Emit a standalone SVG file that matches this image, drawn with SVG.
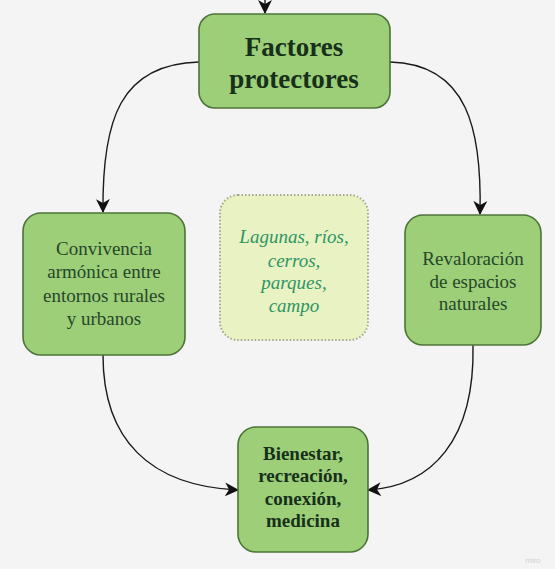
<svg xmlns="http://www.w3.org/2000/svg" width="555" height="569" viewBox="0 0 555 569">
  <style>
    .node { fill: #9ccf78; stroke: #4d7339; stroke-width: 1.6; }
    .note { fill: #e9f2c2; stroke: #a7a790; stroke-width: 2; stroke-dasharray: 1.5 2; }
    .edge { fill: none; stroke: #1a1a1a; stroke-width: 1.4; }
    text { font-family: 'Liberation Serif', 'Tinos', 'DejaVu Serif', serif; text-anchor: middle; }
    .plain { font-size: 19px; fill: #27472a; }
    .bold { font-weight: bold; fill: #17301a; }
    .it { font-size: 19px; font-style: italic; fill: #2e9565; }
  </style>
  <defs>
    <marker id="arrow" viewBox="0 0 14 14" refX="13" refY="7" markerWidth="14" markerHeight="14" markerUnits="userSpaceOnUse" orient="auto">
      <path d="M0,0 L14,7 L0,14 L4,7 Z" fill="#111"/>
    </marker>
  </defs>
  <rect width="555" height="569" fill="#f4f4f4"/>

  <g id="connectors">
    <path class="edge" d="M265,0 L265,13" marker-end="url(#arrow)"/>
    <path class="edge" d="M199,62 C120,64 102,120 103,212" marker-end="url(#arrow)"/>
    <path class="edge" d="M390,62 C468,64 482,130 480,214" marker-end="url(#arrow)"/>
    <path class="edge" d="M103,355 C103,440 150,486 238,490" marker-end="url(#arrow)"/>
    <path class="edge" d="M473,345 C475,440 432,486 368,490" marker-end="url(#arrow)"/>
  </g>

  <g id="factores">
    <rect class="node" x="199" y="14" width="191" height="94" rx="16"/>
    <text class="bold" x="294" y="56" font-size="27">Factores</text>
    <text class="bold" x="294" y="88" font-size="27">protectores</text>
  </g>

  <g id="convivencia">
    <rect class="node" x="23" y="213" width="162" height="142" rx="18"/>
    <text class="plain" x="104" y="255">Convivencia</text>
    <text class="plain" x="104" y="278">armónica entre</text>
    <text class="plain" x="104" y="302">entornos rurales</text>
    <text class="plain" x="104" y="325">y urbanos</text>
  </g>

  <g id="lugares">
    <rect class="note" x="220" y="195" width="148" height="145" rx="18"/>
    <text class="it" x="294" y="243">Lagunas, ríos,</text>
    <text class="it" x="294" y="267">cerros,</text>
    <text class="it" x="294" y="289">parques,</text>
    <text class="it" x="294" y="312">campo</text>
  </g>

  <g id="revaloracion">
    <rect class="node" x="405" y="215" width="136" height="130" rx="18"/>
    <text class="plain" x="473" y="265">Revaloración</text>
    <text class="plain" x="473" y="288">de espacios</text>
    <text class="plain" x="473" y="310">naturales</text>
  </g>

  <g id="bienestar">
    <rect class="node" x="238" y="427" width="130" height="125" rx="18"/>
    <text class="bold" x="303" y="460" font-size="19">Bienestar,</text>
    <text class="bold" x="303" y="482" font-size="19">recreación,</text>
    <text class="bold" x="303" y="505" font-size="19">conexión,</text>
    <text class="bold" x="303" y="527" font-size="19">medicina</text>
  </g>

  <text x="533" y="563" style="font-family: 'Liberation Sans', sans-serif" font-size="8" fill="#d2d2d2">miro</text>
</svg>
